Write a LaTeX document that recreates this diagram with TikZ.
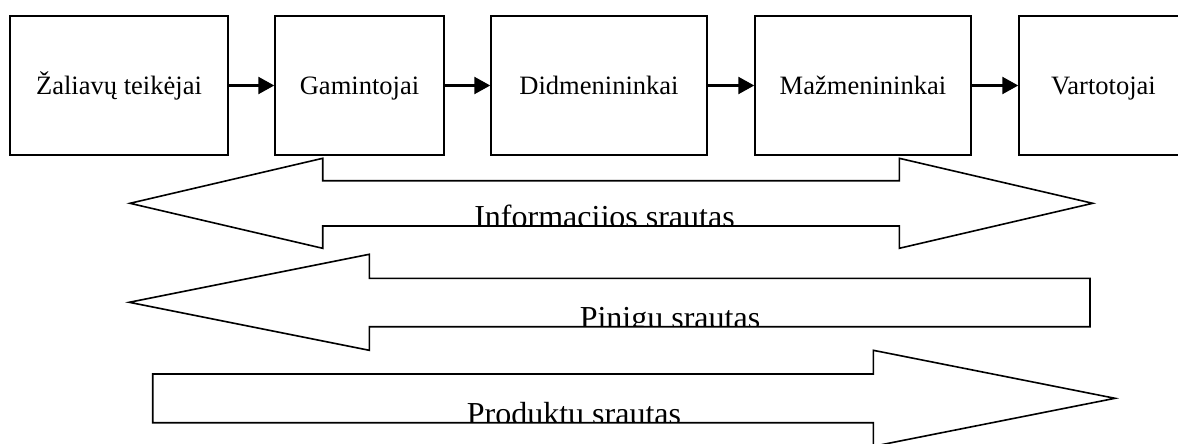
\documentclass[tikz,border=0pt]{standalone}
\usepackage{fontspec}
\setmainfont{Liberation Serif}
\usetikzlibrary{arrows.meta}
\def\pxu{0.75pt}
\tikzset{
  x=0.75pt, y=-0.75pt,
  box/.style={draw=black, line width=1.1pt, fill=white, inner sep=0pt},
  boxlabel/.style={font=\fontsize{19.9pt}{22pt}\selectfont, inner sep=0pt, anchor=base},
  link/.style={draw=black, line width=1.8pt, -{Triangle[length=12pt, width=12.75pt]}},
  blockarrow/.style={draw=black, line width=1.2pt, line join=miter},
  flowlabel/.style={font=\fontsize{24pt}{28pt}\selectfont, inner sep=0pt, anchor=base},
}
\begin{document}
\begin{tikzpicture}
  \useasboundingbox (0,0) rectangle (1178,443);
  \clip (0,0) rectangle (1178,443);

  % supply-chain stages
  \node[box, minimum width=218*\pxu, minimum height=139*\pxu] (b1) at (119,85.5) {};
  \node[box, minimum width=169*\pxu, minimum height=139*\pxu] (b2) at (359.5,85.5) {};
  \node[box, minimum width=216*\pxu, minimum height=139*\pxu] (b3) at (599,85.5) {};
  \node[box, minimum width=216*\pxu, minimum height=139*\pxu] (b4) at (863,85.5) {};
  \node[box, minimum width=169*\pxu, minimum height=139*\pxu] (b5) at (1103.5,85.5) {};

  \node[boxlabel] (t1) at (119,94) {Žaliavų teikėjai};
  \node[boxlabel] (t2) at (359.5,94) {Gamintojai};
  \node[boxlabel] (t3) at (599,94) {Didmenininkai};
  \node[boxlabel] (t4) at (863,94) {Mažmenininkai};
  \node[boxlabel] (t5) at (1103.5,94) {Vartotojai};

  \draw[link] (b1.east) -- (b2.west);
  \draw[link] (b2.east) -- (b3.west);
  \draw[link] (b3.east) -- (b4.west);
  \draw[link] (b4.east) -- (b5.west);

  % information flow: both directions
  \begin{scope}
    \clip (322.7,180.7) rectangle (899.3,226);
    \node[flowlabel] (info) at (604.5,227.5) {Informacijos srautas};
  \end{scope}
  \draw[blockarrow] (130,203.3) -- (322.7,158.3) -- (322.7,180.7) -- (899.3,180.7)
    -- (899.3,158.3) -- (1092.7,203.3) -- (899.3,248.3) -- (899.3,226)
    -- (322.7,226) -- (322.7,248.3) -- cycle;

  % money flow: towards the suppliers
  \begin{scope}
    \clip (369.3,278.3) rectangle (1090,326.7);
    \node[flowlabel] (money) at (670,328) {Pinigų srautas};
  \end{scope}
  \draw[blockarrow] (129.3,302.3) -- (369.3,254.3) -- (369.3,278.3) -- (1090,278.3)
    -- (1090,326.7) -- (369.3,326.7) -- (369.3,350.3) -- cycle;

  % product flow: towards the consumers
  \begin{scope}
    \clip (152.7,374) rectangle (873.3,422.7);
    \node[flowlabel] (product) at (574,424) {Produktų srautas};
  \end{scope}
  \draw[blockarrow] (152.7,374) -- (873.3,374) -- (873.3,350.3) -- (1115,398.3)
    -- (873.3,446.3) -- (873.3,422.7) -- (152.7,422.7) -- cycle;
\end{tikzpicture}
\end{document}
